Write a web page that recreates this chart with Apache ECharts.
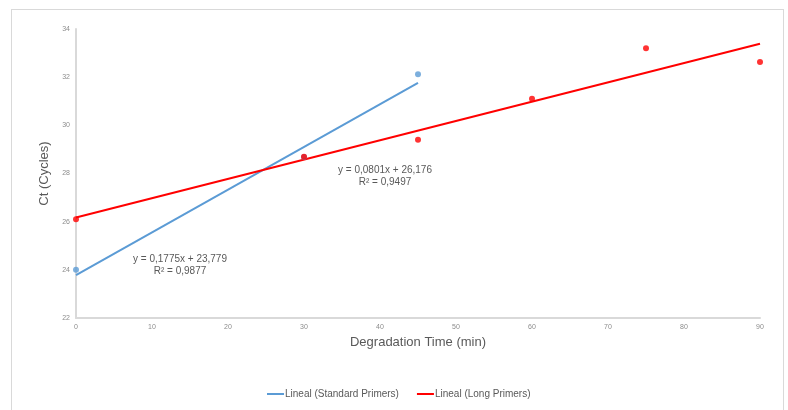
<!DOCTYPE html>
<html>
<head>
<meta charset="utf-8">
<script src="https://cdn.jsdelivr.net/npm/echarts@6/dist/echarts.min.js"></script>
<style>
  html, body { margin: 0; padding: 0; background: #fff; }
  #frame { position: absolute; left: 11px; top: 9px; width: 771px; height: 420px; border: 1px solid #d9d9d9; }
  #chart { position: absolute; left: 0; top: 0; width: 788px; height: 410px; }
</style>
</head>
<body>
<div id="frame"></div>
<div id="chart"></div>
<script>
// measured points (Ct vs degradation time)
const stdTimes = [0, 30, 45]
const stdCt = [24.0, 28.68, 32.12]
const longTimes = [0, 30, 45, 60, 75, 90]
const longCt = [26.1, 28.7, 29.4, 31.1, 33.2, 32.63]

// linear trendlines as reported on the chart
const stdFit = { slope: 0.1775, intercept: 23.779, r2: '0,9877' }
const longFit = { slope: 0.0801, intercept: 26.176, r2: '0,9497' }

const xTicks = { min: 0, max: 90, step: 10 }
const yTicks = { min: 22, max: 34, step: 2 }

const fmt = (n, d) => n.toFixed(d).replace('.', ',')
const fitLine = (fit, x0, x1) => [[x0, fit.intercept + fit.slope * x0], [x1, fit.intercept + fit.slope * x1]]
const pairs = (xs, ys) => xs.map((x, i) => [x, ys[i]])
const fitLabel = (fit) => 'y = ' + fmt(fit.slope, 4) + 'x + ' + fmt(fit.intercept, 3) + '\nR² = ' + fit.r2

const chartDom = document.getElementById('chart')
const myChart = echarts.init(chartDom)

const blue = '#5b9bd5'
const red = '#ff0000'
const textColor = '#595959'

const labelStyle = {
  align: 'center',
  verticalAlign: 'top',
  fill: textColor,
  fontSize: 10,
  lineHeight: 12,
  fontFamily: 'Liberation Sans',
}

const option = {
  animation: false,
  grid: { left: 76, right: 28, top: 29, bottom: 92 },
  legend: {
    bottom: 6,
    left: 262,
    itemWidth: 17,
    itemHeight: 2,
    itemGap: 18,
    icon: 'rect',
    data: ['Lineal (Standard Primers)', 'Lineal (Long Primers)'],
    textStyle: { color: textColor, fontSize: 10, fontFamily: 'Liberation Sans', padding: [0, 0, 0, -4] },
  },
  xAxis: {
    type: 'value',
    min: xTicks.min,
    max: xTicks.max,
    interval: xTicks.step,
    name: 'Degradation Time (min)',
    nameLocation: 'middle',
    nameGap: 16,
    nameTextStyle: { color: textColor, fontSize: 13, fontFamily: 'Liberation Sans' },
    axisLine: { lineStyle: { color: '#d9d9d9', width: 2 } },
    axisTick: { show: false },
    splitLine: { show: false },
    axisLabel: { color: '#8c8c8c', fontSize: 7, margin: 6, fontFamily: 'Liberation Sans' },
  },
  yAxis: {
    type: 'value',
    min: yTicks.min,
    max: yTicks.max,
    interval: yTicks.step,
    name: 'Ct (Cycles)',
    nameLocation: 'middle',
    nameGap: 20,
    nameTextStyle: { color: textColor, fontSize: 13, fontFamily: 'Liberation Sans' },
    axisLine: { show: true, lineStyle: { color: '#d9d9d9', width: 2 } },
    axisTick: { show: false },
    splitLine: { show: false },
    axisLabel: { color: '#8c8c8c', fontSize: 7, margin: 6, fontFamily: 'Liberation Sans' },
  },
  series: [
    {
      name: 'Lineal (Standard Primers)',
      type: 'line',
      data: fitLine(stdFit, stdTimes[0], stdTimes[stdTimes.length - 1]),
      showSymbol: false,
      lineStyle: { color: blue, width: 2 },
      itemStyle: { color: blue },
      z: 2,
    },
    {
      name: 'Lineal (Long Primers)',
      type: 'line',
      data: fitLine(longFit, longTimes[0], longTimes[longTimes.length - 1]),
      showSymbol: false,
      lineStyle: { color: red, width: 2 },
      itemStyle: { color: red },
      z: 2,
    },
    {
      name: 'Standard Primers',
      type: 'scatter',
      data: pairs(stdTimes, stdCt),
      symbolSize: 6,
      itemStyle: { color: blue },
      z: 3,
    },
    {
      name: 'Long Primers',
      type: 'scatter',
      data: pairs(longTimes, longCt),
      symbolSize: 6,
      itemStyle: { color: red },
      z: 4,
    },
  ],
  graphic: [
    { type: 'text', x: 180, y: 253, style: Object.assign({ text: fitLabel(stdFit) }, labelStyle) },
    { type: 'text', x: 385, y: 164, style: Object.assign({ text: fitLabel(longFit) }, labelStyle) },
  ],
}
option && myChart.setOption(option)
</script>
</body>
</html>
